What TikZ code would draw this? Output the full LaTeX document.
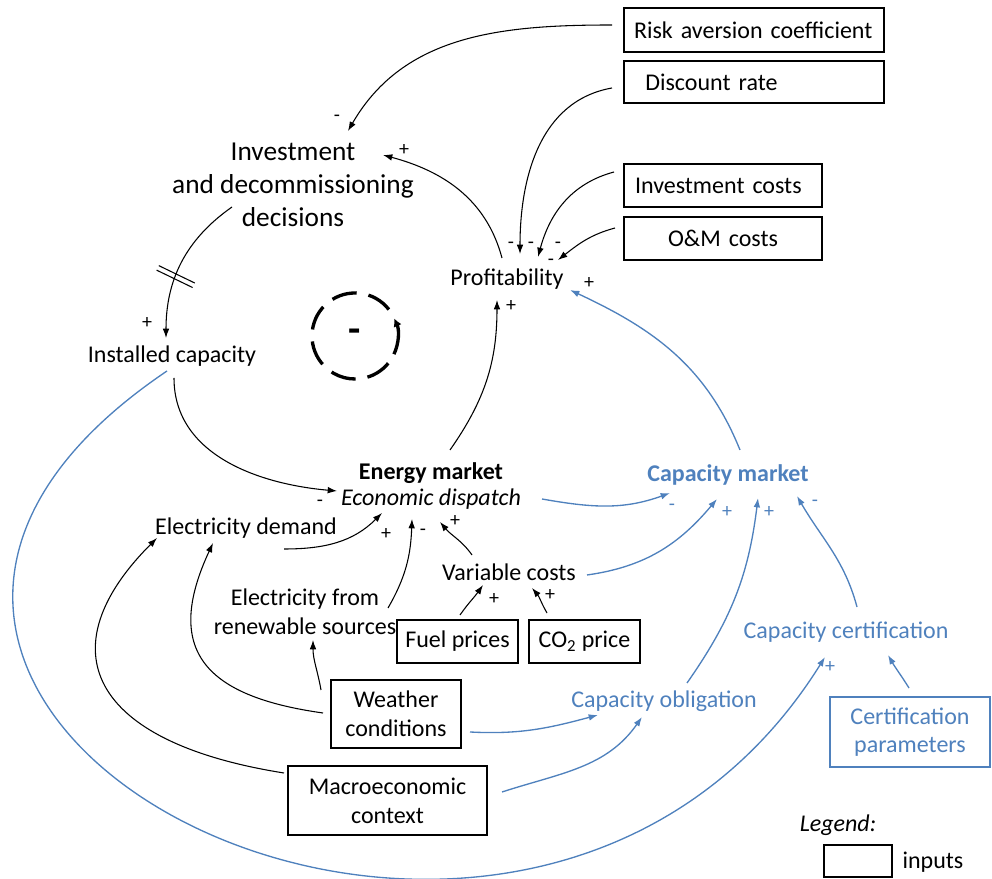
\documentclass[tikz,border=0pt]{standalone}
\usepackage{fontspec}
\setmainfont{Carlito}
\usetikzlibrary{arrows.meta,calc,shadows}
\definecolor{capblue}{RGB}{79,129,189}

\begin{document}
\begin{tikzpicture}[x=0.75pt, y=0.75pt, font=\fontsize{18}{21.5}\selectfont]
\tikzstyle{input} = [rectangle, draw, line width=1.4pt, fill=white,
    drop shadow={shadow xshift=1pt, shadow yshift=-1pt, opacity=0.25},
    inner ysep=0pt, align=center, minimum height=32pt]
\tikzstyle{var} = [inner sep=2pt, align=center]
\tikzstyle{bluevar} = [var, text=capblue]
\tikzstyle{sign} = [inner sep=0pt, font=\fontsize{15}{15}\selectfont]
\tikzstyle{line} = [draw, line width=0.8pt, -{Latex[length=7pt,width=5pt]}]
\tikzstyle{blueline} = [draw=capblue, line width=1pt, -{Latex[length=7pt,width=5pt]}]
\tikzstyle{loopline} = [line width=2.5pt]

    \useasboundingbox (0,0) rectangle (992,878);

    % Place nodes
    \node [input, text width=180pt, inner xsep=7.5pt, align=left, minimum height=33pt] (risk) at (754,848) {Risk aversion coefficient};
    \node [input, text width=163pt, inner xsep=16pt, align=left, minimum height=31.5pt] (disc) at (754,796) {Discount rate};
    \node [input, text width=132pt, inner xsep=8.25pt, align=left] (invc) at (723,692.5) {Investment costs};
    \node [input, text width=132pt, inner xsep=8.25pt] (om) at (723,639.5) {O\&M costs};
    \node [var, font=\fontsize{20.5}{24.5}\selectfont] (invest) at (293,693) {Investment\\and decommissioning\\decisions};
    \node [var] (profit) at (507,599) {Profitability};
    \node [var] (inst) at (172,522) {Installed capacity};
    \node [var, font=\fontsize{18}{19.5}\selectfont] (energy) at (431,392) {\textbf{Energy market}\\\textit{Economic dispatch}};
    \node [bluevar] (capm) at (728,403) {\textbf{Capacity market}};
    \node [var] (demand) at (246,350) {Electricity demand};
    \node [var] (renew) at (305,266) {Electricity from\\renewable sources};
    \node [var] (varc) at (509,306) {Variable costs};
    \node [input, minimum width=90.75pt] (fuel) at (457.5,236.5) {Fuel prices};
    \node [input, minimum width=83.25pt] (co2) at (584.5,236.5) {CO\textsubscript{2} price};
    \node [bluevar] (capcert) at (846,246) {Capacity certification};
    \node [input, minimum width=97.5pt, minimum height=51pt] (weather) at (396,164) {Weather\\conditions};
    \node [bluevar] (capobl) at (664,177) {Capacity obligation};
    \node [input, draw=capblue, text=capblue, minimum width=120pt, minimum height=52.5pt] (cparam) at (910,146) {Certification\\parameters};
    \node [input, minimum width=149.25pt, minimum height=51.75pt] (macro) at (387.5,77.5) {Macroeconomic\\context};
    % loop symbol
    \node [inner sep=0pt, font=\fontsize{30}{30}\selectfont\bfseries] (loopsign) at (355,542) {-};
    \draw [loopline, dash pattern=on 19pt off 9pt] ($(loopsign)+(38:32.25pt)$) arc [start angle=38, end angle=322, radius=32.25pt];
    \draw [loopline, -{Latex[length=6pt,width=6.5pt]}] ($(loopsign)+(-25:32.25pt)$) arc [start angle=-25, end angle=24, radius=32.25pt];
    % legend
    \node [var, font=\fontsize{18}{21.5}\selectfont\itshape] (legend) at (838,53) {Legend:};
    \node [input, minimum width=51pt, minimum height=24pt] (legbox) at (858,17) {};
    \node [var] (legtext) at (933,16) {inputs};

    % Draw edges
    \path [line] ($(risk)+(-142,5)$) to[out=180, in=60] ($(invest)+(55,54)$);
    \node [sign] at ($(invest)+(44,67)$) {-};
    \path [line] ($(disc)+(-142,-6)$) to[out=190, in=90] ($(profit)+(13,25)$);
    \path [line] ($(invc)+(-109,13.5)$) to[out=195, in=75] ($(profit)+(31,22)$);
    \path [line] ($(om)+(-108,10.5)$) to[out=195, in=38] ($(profit)+(51,19)$);
    \node [sign] at ($(profit)+(4,34)$) {-};
    \node [sign] at ($(profit)+(24,34)$) {-};
    \node [sign] at ($(profit)+(51,34)$) {-};
    \node [sign] at ($(profit)+(44,17)$) {-};
    \path [line] ($(profit)+(-5,21)$) to[out=105, in=-15] ($(invest)+(90,30)$);
    \node [sign] at ($(invest)+(111,35)$) {+};
    \path [line] ($(invest)+(-61,-22)$) to[out=215, in=90] coordinate[pos=0.6] (delay) ($(inst)+(-6,18)$);
    \draw [line width=0.8pt] ($(delay)+(-18,8.7)+(1.1,2.25)$) -- ($(delay)+(18,-8.7)+(1.1,2.25)$);
    \draw [line width=0.8pt] ($(delay)+(-18,8.7)+(-1.1,-2.25)$) -- ($(delay)+(18,-8.7)+(-1.1,-2.25)$);
    \node [sign] at ($(inst)+(-25,33)$) {+};
    \path [line] ($(inst)+(2,-22)$) to[out=270, in=175] ($(energy)+(-94,-5)$);
    \node [sign] at ($(energy)+(-111,-17)$) {-};
    \path [line] ($(demand)+(38,-21)$) to[out=0, in=225] ($(energy)+(-49,-27)$);
    \node [sign] at ($(energy)+(-45,-48)$) {+};
    \path [line] ($(renew)+(83,4)$) to[out=60, in=268] ($(energy)+(-19,-33)$);
    \node [sign] at ($(energy)+(-8,-46)$) {-};
    \path [line] ($(varc)+(-37,17)$) to[out=125, in=310] ($(energy)+(9,-36)$);
    \node [sign] at ($(energy)+(24,-35)$) {+};
    \path [line] ($(energy)+(19,36)$) to[out=55, in=270] ($(profit)+(-10,-21)$);
    \node [sign] at ($(profit)+(4,-27)$) {+};
    \path [line] ($(fuel)+(2.5,26.5)$) to[out=55, in=235] ($(varc)+(-26,-13)$);
    \node [sign] at ($(varc)+(-15,-27)$) {+};
    \path [line] ($(co2)+(-37.5,28.5)$) to[out=120, in=310] ($(varc)+(23,-16)$);
    \node [sign] at ($(varc)+(41,-23)$) {+};
    \path [line] ($(weather)+(-75,24)$) to[out=100, in=270] ($(renew)+(8,-28)$);
    \path [line] ($(weather)+(-73,1)$) to[out=172, in=245, looseness=1.5] ($(demand)+(-33,-15)$);
    \path [line] ($(macro)+(-103.5,27.5)$) to[out=171, in=225, out looseness=1.9, in looseness=1.5] ($(demand)+(-89,-10)$);
    % capacity market edges
    \path [blueline] ($(inst)+(-5,-15)$) to[out=214, in=238, out looseness=2.15, in looseness=2.07] ($(capcert)+(-21,-25)$);
    \node [sign, text=capblue] at ($(capcert)+(-16,-35)$) {+};
    \path [blueline] ($(energy)+(111,-13)$) to[out=-10, in=200] ($(capm)+(-58,-18)$);
    \node [sign, text=capblue] at ($(capm)+(-56,-32)$) {-};
    \path [blueline] ($(varc)+(78,-3)$) to[out=8, in=230] ($(capm)+(-11,-24)$);
    \node [sign, text=capblue] at ($(capm)+(-1,-37)$) {+};
    \path [blueline] ($(capobl)+(23,18)$) to[out=55, in=263] ($(capm)+(30,-23)$);
    \node [sign, text=capblue] at ($(capm)+(41,-37)$) {+};
    \path [blueline] ($(capcert)+(11,25)$) to[out=105, in=300] ($(capm)+(69,-21)$);
    \node [sign, text=capblue] at ($(capm)+(87,-28)$) {-};
    \path [blueline] ($(cparam)+(-1,44)$) to[out=122, in=300] ($(capcert)+(42,-23)$);
    \path [blueline] ($(weather)+(74,-18)$) to[out=-3, in=195] ($(capobl)+(-66,-14)$);
    \path [blueline] ($(macro)+(114.5,8.5)$) to[out=18, in=235] ($(capobl)+(-22,-16)$);
    \path [blueline] ($(capm)+(12,25)$) to[out=112, in=-25] ($(profit)+(63,-11)$);
    \node [sign] at ($(profit)+(82,-4)$) {+};
\end{tikzpicture}
\end{document}
